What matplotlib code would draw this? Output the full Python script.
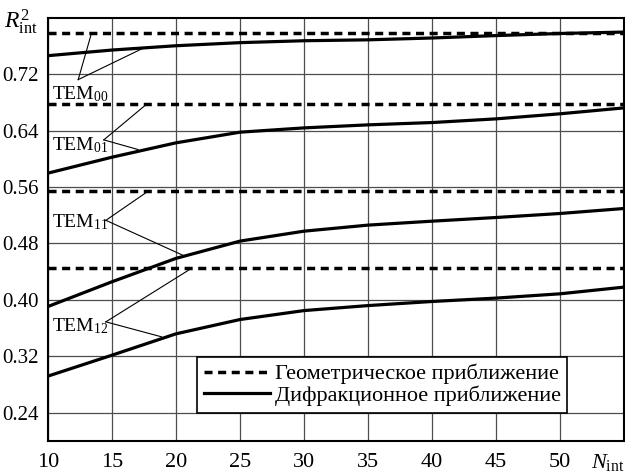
import matplotlib
matplotlib.use("Agg")
import matplotlib.pyplot as plt

plt.rcParams['font.family'] = ['Liberation Serif', 'DejaVu Serif']
plt.rcParams['mathtext.fontset'] = 'custom'
plt.rcParams['mathtext.rm'] = 'Liberation Serif'
plt.rcParams['mathtext.it'] = 'Liberation Serif:italic'
plt.rcParams['lines.scale_dashes'] = False

# data
n_int = [10, 15, 20, 25, 30, 35, 40, 45, 50, 55]
modes = ['TEM$_{00}$', 'TEM$_{01}$', 'TEM$_{11}$', 'TEM$_{12}$']
geom = [0.7786, 0.6775, 0.554, 0.4446]
diffr = [
    [0.7465, 0.7545, 0.7606, 0.765, 0.7677, 0.769, 0.7716, 0.775, 0.778, 0.780],
    [0.5798, 0.6024, 0.6228, 0.6379, 0.644, 0.6483, 0.6516, 0.6568, 0.664, 0.6724],
    [0.3905, 0.4256, 0.4588, 0.4833, 0.4974, 0.506, 0.5116, 0.5168, 0.5225, 0.5296],
    [0.2917, 0.3214, 0.3517, 0.372, 0.3847, 0.3918, 0.3976, 0.4024, 0.4085, 0.418],
]
# annotation: label vertex and the two points the leader lines go to
label_vertex = [(12.36, 0.7125), (14.36, 0.627), (14.52, 0.5128), (14.52, 0.3687)]
label_text_y = [0.6926, 0.619, 0.510, 0.3627]
leader_geom = [(13.4, 0.7786), (17.69, 0.6775), (17.81, 0.554), (21.19, 0.4444)]
leader_diffr = [(17.42, 0.757), (17.03, 0.6133), (20.54, 0.4632), (18.86, 0.3475)]

xticks = [10, 15, 20, 25, 30, 35, 40, 45, 50]
yticks = [0.24, 0.32, 0.40, 0.48, 0.56, 0.64, 0.72]
leg_labels = ['Геометрическое приближение', 'Дифракционное приближение']

fig = plt.figure(figsize=(6.25, 4.72), dpi=100)
ax = fig.add_axes([0.0768, 0.0663, 0.9216, 0.8956])

for i in range(len(modes)):
    ax.axhline(geom[i], color='black', lw=2.5, ls=(0, (5.8, 4)),
               label=leg_labels[0] if i == 0 else None, zorder=3)
    ax.plot(n_int, diffr[i], color='black', lw=2.3,
            label=leg_labels[1] if i == 0 else None, zorder=3)
    vx, vy = label_vertex[i]
    for px, py in (leader_geom[i], leader_diffr[i]):
        ax.plot([vx, px], [vy, py], color='black', lw=0.8, zorder=4)
    ax.text(10.3, label_text_y[i], modes[i], fontsize=14, va='center', ha='left', zorder=5)

ax.set_xlim(10, 55)
ax.set_ylim(0.20, 0.80)
ax.set_xticks(xticks)
ax.set_yticks(yticks)
ax.set_yticklabels(['%.2f' % v for v in yticks])
ax.tick_params(axis='x', length=0, labelsize=16, pad=9)
ax.tick_params(axis='y', length=0, labelsize=15, pad=7)
ax.grid(True, color='0.3', lw=0.9)
ax.set_axisbelow(True)
for s in ax.spines.values():
    s.set_linewidth(1.5)

ax.annotate('$N_{\\rm int}$', xy=(52.4, 0), xycoords=('data', 'axes fraction'),
            xytext=(0, -8), textcoords='offset points', ha='left', va='top', fontsize=16)
fig.text(0.006, 0.955, '$R^2_{\\rm int}$', fontsize=17, ha='left', va='center')

leg = ax.legend(loc='lower right', bbox_to_anchor=(0.9016, 0.0662), fontsize=16,
                fancybox=False, framealpha=1, edgecolor='black', borderpad=0.3,
                handlelength=3, handletextpad=0.2, labelspacing=0.05, borderaxespad=0)
leg.get_frame().set_linewidth(1.2)
leg.set_zorder(6)

fig.savefig('out.png', dpi=100)
